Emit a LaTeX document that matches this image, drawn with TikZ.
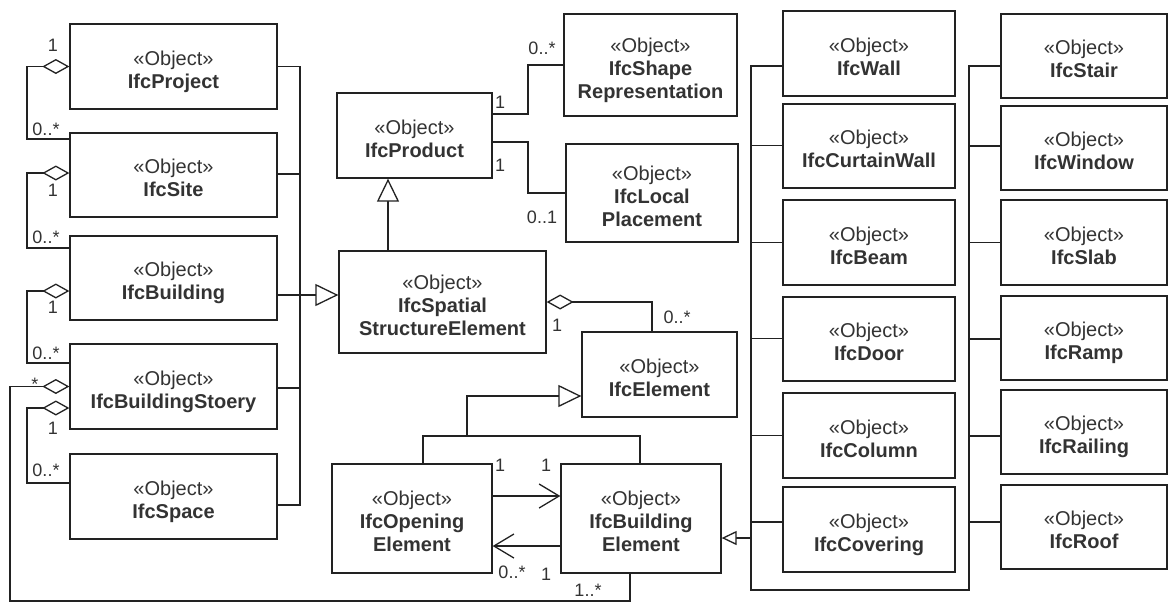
\documentclass[tikz,border=0pt]{standalone}
\usepackage{fontspec}
\setmainfont{Liberation Sans}
\usetikzlibrary{arrows.meta}
\definecolor{ink}{HTML}{222222}
\definecolor{txt}{HTML}{333333}
\newcommand\umlbox[5]{%
  \node[clsbox, minimum width=#3, minimum height=#4] (#1) at #2 {};
  \node[clstext] (#1t) at ([yshift=-5.4pt]#1.center) {\strut«Object»\\#5\strut};}
\begin{document}
\begin{tikzpicture}[x=1pt,y=-1pt,
 clsbox/.style={draw=ink, line width=1.3pt, fill=white, inner sep=0pt},
 clstext/.style={inner sep=0pt, align=center, font=\fontsize{20}{23}\selectfont, text=txt},
 lbl/.style={font=\fontsize{18}{20}\selectfont, text=txt, inner sep=0pt},
 con/.style={draw=ink, line width=1.3pt},
 gen/.style={con, -{Triangle[open, length=23pt, width=22pt, fill=white]}},
 gens/.style={con, -{Triangle[open, length=15pt, width=14pt, fill=white]}},
 agg/.style={con, -{Diamond[open, length=27pt, width=15pt, fill=white]}},
 nav/.style={con, -{Straight Barb[length=20pt, width=24pt]}},
]
\useasboundingbox[fill=white] (0,0) rectangle (1169,606);

% left column
\umlbox{proj}{(173.5,66.5)}{207pt}{85pt}{\textbf{IfcProject}}
\umlbox{site}{(173.5,175)}{207pt}{84pt}{\textbf{IfcSite}}
\umlbox{bldg}{(173.5,278)}{207pt}{84pt}{\textbf{IfcBuilding}}
\umlbox{storey}{(173.5,386.5)}{207pt}{85pt}{\textbf{IfcBuildingStoery}}
\umlbox{space}{(173.5,496.5)}{207pt}{85pt}{\textbf{IfcSpace}}

% middle
\umlbox{product}{(414.5,135.5)}{155pt}{85pt}{\textbf{IfcProduct}}
\umlbox{shape}{(650.5,65)}{173pt}{102pt}{\textbf{IfcShape}\\\textbf{Representation}}
\umlbox{place}{(652,193)}{172pt}{98pt}{\textbf{IfcLocal}\\\textbf{Placement}}
\umlbox{sse}{(442.5,302)}{207pt}{102pt}{\textbf{IfcSpatial}\\\textbf{StructureElement}}
\umlbox{elem}{(659.5,374.5)}{155pt}{85pt}{\textbf{IfcElement}}
\umlbox{open}{(412,518.5)}{160pt}{109pt}{\textbf{IfcOpening}\\\textbf{Element}}
\umlbox{belem}{(641,518.5)}{160pt}{109pt}{\textbf{IfcBuilding}\\\textbf{Element}}

% right columns
\umlbox{wall}{(869,53.5)}{172pt}{85pt}{\textbf{IfcWall}}
\umlbox{cwall}{(869,146)}{172pt}{84pt}{\textbf{IfcCurtainWall}}
\umlbox{beam}{(869,242.5)}{172pt}{85pt}{\textbf{IfcBeam}}
\umlbox{door}{(869,339)}{172pt}{84pt}{\textbf{IfcDoor}}
\umlbox{column}{(869,435.5)}{172pt}{85pt}{\textbf{IfcColumn}}
\umlbox{covering}{(869,529.5)}{172pt}{85pt}{\textbf{IfcCovering}}

\umlbox{stair}{(1084,56)}{166pt}{84pt}{\textbf{IfcStair}}
\umlbox{window}{(1084,148)}{166pt}{84pt}{\textbf{IfcWindow}}
\umlbox{slab}{(1084,242.5)}{166pt}{85pt}{\textbf{IfcSlab}}
\umlbox{ramp}{(1084,338)}{166pt}{84pt}{\textbf{IfcRamp}}
\umlbox{railing}{(1084,432)}{166pt}{84pt}{\textbf{IfcRailing}}
\umlbox{roof}{(1084,527)}{166pt}{84pt}{\textbf{IfcRoof}}

% helper coordinates
\coordinate (lx) at (27,0);
\coordinate (lb) at (300,295);
\coordinate (pc) at (528,0);
\coordinate (gj) at (467,436);
\coordinate (bl) at (10,601);
\coordinate (rbot) at (751,590);
\coordinate (rbot2) at (969,590);

% left aggregations
\draw[agg] ([yshift=36pt]site.west) coordinate (s1) -- (s1 -| lx) |- (proj.west);
\draw[agg] ([yshift=30pt]bldg.west) coordinate (s2) -- (s2 -| lx) |- ([yshift=2pt]site.west);
\draw[agg] ([yshift=23.5pt]storey.west) coordinate (s3) -- (s3 -| lx) |- ([yshift=-13pt]bldg.west);
\draw[agg] ([yshift=13.5pt]space.west) coordinate (s4) -- (s4 -| lx) |- ([yshift=-21.5pt]storey.west);
\draw[agg] ([xshift=-11pt]belem.south) |- (bl) |- (storey.west);

% left bus to spatial structure element
\draw[con] (proj.east) -| (lb) |- ([yshift=-8.5pt]space.east);
\draw[con] ([yshift=1pt]site.east) -- ([yshift=1pt]site.east -| lb);
\draw[con] ([yshift=-17pt]bldg.east) -- (lb);
\draw[con] ([yshift=-1.5pt]storey.east) -- ([yshift=-1.5pt]storey.east -| lb);
\draw[gen] (lb) -- (lb -| sse.west);

% product relations
\draw[gen] ([xshift=-26.5pt]product.south |- sse.north) -- ([xshift=-26.5pt]product.south);
\draw[con] ([yshift=21.5pt]product.east) coordinate (p1) -- (p1 -| pc) |- (shape.west);
\draw[con] ([yshift=-6.5pt]product.east) coordinate (p2) -- (p2 -| pc) |- (place.west);

% spatial structure aggregation of elements
\draw[agg] ([xshift=-7.5pt]elem.north) |- (sse.east);

% element generalization
\draw[con] ([xshift=11pt]open.north) -- ([xshift=11pt]open.north |- gj) -- ([xshift=-1pt]belem.north |- gj) -- ([xshift=-1pt]belem.north);
\draw[gen] (gj) |- ([yshift=-21.5pt]elem.west);

% opening / building element associations
\draw[nav] ([yshift=22.5pt]open.east) -- ([yshift=22.5pt]belem.west);
\draw[nav] ([yshift=-27.5pt]belem.west) -- ([yshift=-27.5pt]open.east);

% right buses
\draw[con] ([yshift=-12.5pt]wall.west) -| (rbot) -- (rbot2) |- ([yshift=-10pt]stair.west);
\draw[con] ([yshift=0.2pt]cwall.west) -- ([yshift=0.2pt]cwall.west -| rbot);
\draw[con] ([yshift=0.3pt]beam.west) -- ([yshift=0.3pt]beam.west -| rbot);
\draw[con] ([yshift=0.2pt]door.west) -- ([yshift=0.2pt]door.west -| rbot);
\draw[con] ([yshift=-0.3pt]column.west) -- ([yshift=-0.3pt]column.west -| rbot);
\draw[con] ([yshift=7.5pt]covering.west) -- ([yshift=7.5pt]covering.west -| rbot);
\draw[con] ([yshift=2pt]window.west) -- ([yshift=2pt]window.west -| rbot2);
\draw[con] ([yshift=0.3pt]slab.west) -- ([yshift=0.3pt]slab.west -| rbot2);
\draw[con] ([yshift=-1pt]ramp.west) -- ([yshift=-1pt]ramp.west -| rbot2);
\draw[con] ([yshift=-4pt]railing.west) -- ([yshift=-4pt]railing.west -| rbot2);
\draw[con] ([yshift=5pt]roof.west) -- ([yshift=5pt]roof.west -| rbot2);
\draw[gens] ([yshift=-19.5pt]belem.east -| rbot) -- ([yshift=-19.5pt]belem.east);

% multiplicity labels
\node[lbl] (m1) at (53,45) {1};
\node[lbl] (m2) at (46,129) {0..*};
\node[lbl] (m3) at (53,190) {1};
\node[lbl] (m4) at (46,237) {0..*};
\node[lbl] (m5) at (53,307) {1};
\node[lbl] (m6) at (46,353) {0..*};
\node[lbl] (m7) at (35,384) {*};
\node[lbl] (m8) at (53,428) {1};
\node[lbl] (m9) at (46,470) {0..*};
\node[lbl] (m10) at (500,102) {1};
\node[lbl] (m11) at (542,48) {0..*};
\node[lbl] (m12) at (500,165) {1};
\node[lbl] (m13) at (542,217) {0..1};
\node[lbl] (m14) at (557,325) {1};
\node[lbl] (m15) at (677,317) {0..*};
\node[lbl] (m16) at (500,465) {1};
\node[lbl] (m17) at (546,465) {1};
\node[lbl] (m18) at (512,572) {0..*};
\node[lbl] (m19) at (546,574) {1};
\node[lbl] (m20) at (588,590) {1..*};
\end{tikzpicture}
\end{document}
